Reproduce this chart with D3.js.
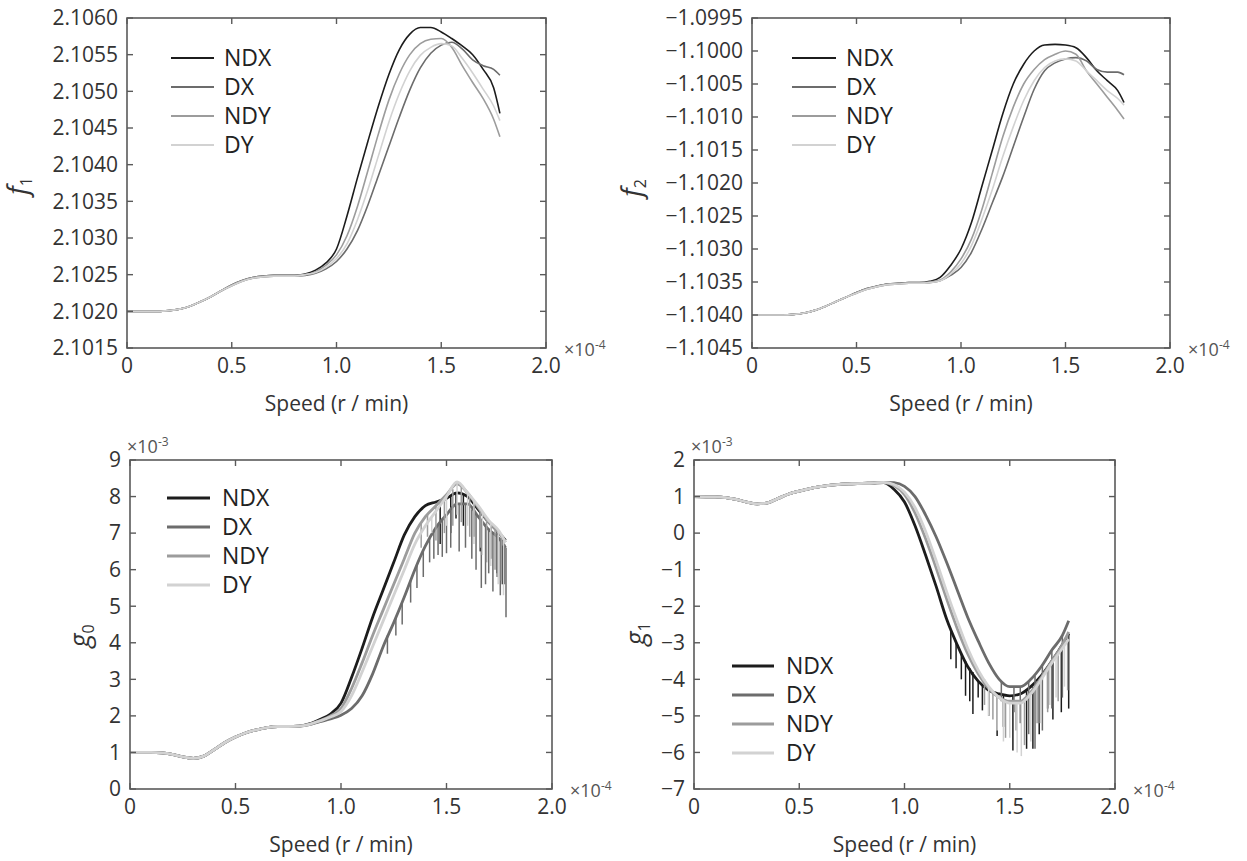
<!DOCTYPE html>
<html><head><meta charset="utf-8">
<script src="https://cdn.jsdelivr.net/npm/d3@7"></script>
<style>
body{margin:0;background:#fff;}
svg{display:block;}
text{font-family:"Open Sans",sans-serif;}
</style></head><body>
<svg id="chart" width="1247" height="861"></svg>
<script>
// ---------- DATA (speed in units of 1e-4) ----------
const speed = [0, 0.1, 0.15, 0.2, 0.25, 0.3, 0.35, 0.4, 0.45, 0.5, 0.55, 0.6, 0.65, 0.7, 0.75, 0.8, 0.85, 0.9, 0.95, 1.0, 1.05, 1.1, 1.15, 1.2, 1.25, 1.3, 1.35, 1.4, 1.45, 1.5, 1.55, 1.6, 1.65, 1.7, 1.75, 1.78];
const seriesNames = ["NDX", "DX", "NDY", "DY"];
const xTicks = [0, 0.5, 1.0, 1.5, 2.0];
const xTickLabels = ["0", "0.5", "1.0", "1.5", "2.0"];

// f1
const f1Ticks = [2.1015, 2.1020, 2.1025, 2.1030, 2.1035, 2.1040, 2.1045, 2.1050, 2.1055, 2.1060];
const f1NDX = [2.10200, 2.10200, 2.10200, 2.10201, 2.10203, 2.10207, 2.10213, 2.10220, 2.10228, 2.10236, 2.10242, 2.10246, 2.10248, 2.10249, 2.10249, 2.10249, 2.10251, 2.10256, 2.10266, 2.10285, 2.10330, 2.10382, 2.10432, 2.10480, 2.10523, 2.10557, 2.10578, 2.10587, 2.10587, 2.10581, 2.10572, 2.10562, 2.10550, 2.10530, 2.10505, 2.10470];
const f1DX  = [2.10200, 2.10200, 2.10200, 2.10201, 2.10203, 2.10207, 2.10213, 2.10220, 2.10228, 2.10235, 2.10241, 2.10245, 2.10247, 2.10248, 2.10248, 2.10248, 2.10249, 2.10252, 2.10258, 2.10268, 2.10285, 2.10310, 2.10345, 2.10385, 2.10425, 2.10465, 2.10502, 2.10532, 2.10552, 2.10563, 2.10567, 2.10558, 2.10543, 2.10535, 2.10530, 2.10522];
const f1NDY = [2.10200, 2.10200, 2.10200, 2.10201, 2.10203, 2.10207, 2.10213, 2.10220, 2.10228, 2.10236, 2.10242, 2.10246, 2.10248, 2.10249, 2.10249, 2.10249, 2.10250, 2.10254, 2.10263, 2.10277, 2.10303, 2.10343, 2.10392, 2.10442, 2.10488, 2.10524, 2.10550, 2.10565, 2.10571, 2.10572, 2.10560, 2.10535, 2.10512, 2.10490, 2.10462, 2.10438];
const f1DY  = [2.10200, 2.10200, 2.10200, 2.10201, 2.10203, 2.10207, 2.10213, 2.10220, 2.10228, 2.10235, 2.10241, 2.10245, 2.10247, 2.10248, 2.10248, 2.10248, 2.10250, 2.10253, 2.10260, 2.10272, 2.10292, 2.10325, 2.10366, 2.10412, 2.10458, 2.10497, 2.10528, 2.10549, 2.10560, 2.10565, 2.10562, 2.10545, 2.10525, 2.10503, 2.10480, 2.10460];

// f2
const f2Ticks = [-1.1045, -1.1040, -1.1035, -1.1030, -1.1025, -1.1020, -1.1015, -1.1010, -1.1005, -1.1000, -1.0995];
const f2NDX = [-1.10400, -1.10400, -1.10400, -1.10399, -1.10397, -1.10393, -1.10387, -1.10380, -1.10373, -1.10366, -1.10360, -1.10356, -1.10353, -1.10352, -1.10351, -1.10351, -1.10349, -1.10343, -1.10325, -1.10300, -1.10260, -1.10205, -1.10150, -1.10095, -1.10050, -1.10020, -1.10000, -1.09991, -1.09990, -1.09991, -1.09995, -1.10010, -1.10030, -1.10045, -1.10060, -1.10078];
const f2DX  = [-1.10400, -1.10400, -1.10400, -1.10399, -1.10397, -1.10393, -1.10387, -1.10380, -1.10373, -1.10367, -1.10361, -1.10357, -1.10354, -1.10353, -1.10352, -1.10352, -1.10351, -1.10348, -1.10340, -1.10328, -1.10305, -1.10270, -1.10230, -1.10190, -1.10145, -1.10100, -1.10058, -1.10030, -1.10018, -1.10012, -1.10010, -1.10015, -1.10028, -1.10032, -1.10032, -1.10036];
const f2NDY = [-1.10400, -1.10400, -1.10400, -1.10399, -1.10397, -1.10393, -1.10387, -1.10380, -1.10373, -1.10366, -1.10360, -1.10356, -1.10353, -1.10352, -1.10351, -1.10351, -1.10350, -1.10347, -1.10335, -1.10315, -1.10285, -1.10240, -1.10185, -1.10130, -1.10085, -1.10050, -1.10028, -1.10013, -1.10005, -1.10000, -1.10005, -1.10030, -1.10050, -1.10070, -1.10090, -1.10103];
const f2DY  = [-1.10400, -1.10400, -1.10400, -1.10399, -1.10397, -1.10393, -1.10387, -1.10380, -1.10373, -1.10367, -1.10361, -1.10357, -1.10354, -1.10353, -1.10352, -1.10352, -1.10351, -1.10348, -1.10338, -1.10322, -1.10295, -1.10255, -1.10210, -1.10160, -1.10115, -1.10075, -1.10045, -1.10025, -1.10015, -1.10012, -1.10015, -1.10030, -1.10045, -1.10060, -1.10072, -1.10082];

// g0 (units of 1e-3)
const g0Ticks = [0, 1, 2, 3, 4, 5, 6, 7, 8, 9];
const g0NDX = [1.00, 1.00, 0.99, 0.95, 0.88, 0.84, 0.90, 1.08, 1.27, 1.42, 1.54, 1.62, 1.68, 1.71, 1.71, 1.72, 1.78, 1.90, 2.05, 2.35, 3.05, 3.85, 4.70, 5.45, 6.20, 6.95, 7.45, 7.75, 7.85, 7.95, 8.10, 8.00, 7.65, 7.30, 7.00, 6.80];
const g0DX  = [1.00, 1.00, 0.99, 0.95, 0.88, 0.84, 0.90, 1.08, 1.27, 1.42, 1.54, 1.62, 1.68, 1.71, 1.71, 1.72, 1.76, 1.84, 1.92, 2.02, 2.20, 2.55, 3.15, 3.90, 4.55, 5.25, 6.00, 6.65, 7.15, 7.50, 7.80, 7.80, 7.45, 7.10, 6.85, 6.60];
const g0NDY = [1.00, 1.00, 0.99, 0.95, 0.88, 0.84, 0.90, 1.08, 1.27, 1.42, 1.54, 1.62, 1.68, 1.71, 1.71, 1.72, 1.77, 1.87, 2.00, 2.20, 2.75, 3.45, 4.20, 4.90, 5.60, 6.30, 7.00, 7.45, 7.75, 8.05, 8.35, 8.10, 7.70, 7.30, 7.00, 6.75];
const g0DY  = [1.00, 1.00, 0.99, 0.95, 0.88, 0.84, 0.90, 1.08, 1.27, 1.42, 1.54, 1.62, 1.68, 1.71, 1.71, 1.72, 1.77, 1.86, 1.97, 2.12, 2.55, 3.20, 3.90, 4.60, 5.30, 6.00, 6.70, 7.20, 7.60, 8.00, 8.40, 8.10, 7.75, 7.35, 7.05, 6.75];
// downward spikes: [speed, top, bottom]
const g0SpikesNDX = [[1.47, 7.9, 6.7], [1.52, 8.0, 7.0], [1.545, 8.1, 7.4], [1.58, 8.05, 7.2], [1.63, 7.8, 6.9], [1.66, 7.6, 6.5], [1.71, 7.25, 6.3], [1.74, 7.05, 5.9], [1.765, 6.9, 5.6]];
const g0SpikesDX  = [[1.22, 4.2, 3.7], [1.26, 4.7, 4.2], [1.29, 5.1, 4.5], [1.33, 5.7, 5.1], [1.36, 6.1, 5.5], [1.39, 6.5, 5.8], [1.42, 6.85, 6.2], [1.44, 7.05, 6.3], [1.46, 7.2, 6.4], [1.48, 7.35, 6.35], [1.50, 7.5, 6.45], [1.52, 7.6, 6.6], [1.56, 7.8, 6.5], [1.59, 7.8, 6.6], [1.62, 7.65, 6.3], [1.64, 7.5, 6.0], [1.665, 7.35, 5.5], [1.685, 7.2, 5.6], [1.70, 7.1, 5.9], [1.72, 7.0, 5.4], [1.74, 6.9, 5.8], [1.755, 6.85, 5.3], [1.775, 6.7, 5.6], [1.782, 6.6, 4.7]];
const g0SpikesNDY = [[1.38, 7.3, 6.6], [1.41, 7.5, 6.9], [1.45, 7.75, 6.8], [1.49, 8.0, 7.0], [1.53, 8.2, 7.2], [1.57, 8.3, 7.3], [1.61, 8.0, 6.9], [1.66, 7.6, 6.6], [1.69, 7.4, 6.2], [1.73, 7.15, 6.0], [1.76, 6.95, 5.7]];
const g0SpikesDY  = [[1.43, 7.45, 7.0], [1.50, 8.0, 7.2], [1.55, 8.4, 7.5], [1.60, 8.1, 7.2], [1.63, 7.9, 6.7], [1.67, 7.6, 6.4], [1.71, 7.3, 6.1], [1.745, 7.05, 5.6], [1.77, 6.85, 5.3]];

// g1 (units of 1e-3)
const g1Ticks = [-7, -6, -5, -4, -3, -2, -1, 0, 1, 2];
const g1NDX = [1.00, 0.99, 0.97, 0.92, 0.85, 0.80, 0.83, 0.95, 1.07, 1.15, 1.22, 1.27, 1.31, 1.34, 1.35, 1.36, 1.37, 1.38, 1.20, 0.85, 0.20, -0.60, -1.45, -2.35, -3.05, -3.65, -4.05, -4.30, -4.40, -4.45, -4.40, -4.20, -3.90, -3.50, -3.05, -2.75];
const g1DX  = [1.00, 0.99, 0.97, 0.92, 0.85, 0.80, 0.83, 0.95, 1.07, 1.15, 1.22, 1.27, 1.31, 1.34, 1.35, 1.36, 1.37, 1.39, 1.38, 1.28, 1.00, 0.50, -0.10, -0.80, -1.55, -2.30, -2.95, -3.55, -4.00, -4.20, -4.20, -4.00, -3.65, -3.20, -2.80, -2.40];
const g1NDY = [1.00, 0.99, 0.97, 0.92, 0.85, 0.80, 0.83, 0.95, 1.07, 1.15, 1.22, 1.27, 1.31, 1.34, 1.35, 1.36, 1.37, 1.38, 1.30, 1.05, 0.55, -0.15, -0.95, -1.80, -2.60, -3.30, -3.85, -4.25, -4.50, -4.60, -4.60, -4.35, -3.95, -3.50, -3.05, -2.70];
const g1DY  = [1.00, 0.99, 0.97, 0.92, 0.85, 0.80, 0.83, 0.95, 1.07, 1.15, 1.22, 1.27, 1.31, 1.34, 1.35, 1.36, 1.37, 1.39, 1.33, 1.12, 0.70, 0.05, -0.75, -1.60, -2.40, -3.15, -3.75, -4.20, -4.50, -4.65, -4.65, -4.40, -4.00, -3.55, -3.15, -2.90];
const g1SpikesNDX = [[1.22, -2.7, -3.45], [1.245, -3.0, -3.7], [1.27, -3.3, -4.0], [1.29, -3.5, -4.45], [1.31, -3.7, -4.6], [1.325, -3.8, -4.95], [1.35, -4.05, -4.5], [1.37, -4.15, -4.85], [1.40, -4.3, -5.0], [1.44, -4.4, -5.55], [1.47, -4.4, -5.3], [1.515, -4.45, -5.95], [1.58, -4.3, -5.9], [1.61, -4.2, -5.9], [1.64, -4.0, -5.5], [1.68, -3.7, -4.8], [1.705, -3.5, -5.1], [1.745, -3.1, -4.9], [1.78, -2.75, -4.8]];
const g1SpikesDX  = [[1.46, -4.05, -4.6], [1.52, -4.2, -4.9], [1.55, -4.2, -5.2], [1.59, -4.05, -5.5], [1.62, -3.9, -5.9], [1.655, -3.6, -5.4], [1.70, -3.2, -4.8], [1.75, -2.8, -4.5]];
const g1SpikesNDY = [[1.38, -4.0, -4.7], [1.42, -4.35, -5.1], [1.48, -4.55, -5.6], [1.53, -4.6, -5.4], [1.57, -4.5, -5.8], [1.63, -4.05, -5.2], [1.68, -3.7, -4.9], [1.73, -3.25, -4.6], [1.775, -2.8, -4.3]];
const g1SpikesDY  = [[1.40, -4.2, -5.0], [1.44, -4.45, -5.4], [1.47, -4.55, -5.7], [1.50, -4.65, -5.6], [1.535, -4.65, -6.0], [1.555, -4.65, -6.1], [1.60, -4.45, -5.7], [1.645, -4.05, -5.2], [1.69, -3.65, -4.7], [1.72, -3.4, -4.5], [1.76, -3.05, -4.2]];

// ---------- STYLE / LAYOUT ----------
const seriesColors = ["#1c1c1c", "#6c6c6c", "#9c9c9c", "#d2d2d2"];
const frameColor = "#5a5a5a";
const textColor = "#333";

const panels = [
  {sym: "f", sub: "1", box: {l: 127, r: 546, t: 18, b: 348}, yDomain: [2.1015, 2.1060], yTicks: f1Ticks, fmt: d3.format(".4f"),
   series: [f1NDX, f1DX, f1NDY, f1DY], spikes: null, lw: 1.6, leg: {x1: 171, x2: 214, tx: 224, y0: 58}, ylab: {x: 18, y: 186}, yExp: null},
  {sym: "f", sub: "2", box: {l: 752, r: 1170, t: 18, b: 348}, yDomain: [-1.1045, -1.0995], yTicks: f2Ticks, fmt: d3.format(".4f"),
   series: [f2NDX, f2DX, f2NDY, f2DY], spikes: null, lw: 1.6, leg: {x1: 792, x2: 836, tx: 846, y0: 58}, ylab: {x: 632, y: 188}, yExp: null},
  {sym: "g", sub: "0", box: {l: 130, r: 552, t: 460, b: 789}, yDomain: [0, 9], yTicks: g0Ticks, fmt: d3.format("d"),
   series: [g0NDX, g0DX, g0NDY, g0DY], spikes: [g0SpikesNDX, g0SpikesDX, g0SpikesNDY, g0SpikesDY], lw: 2.8,
   leg: {x1: 167, x2: 210, tx: 222, y0: 498}, ylab: {x: 80, y: 636}, yExp: "-3"},
  {sym: "g", sub: "1", box: {l: 694, r: 1115, t: 460, b: 789}, yDomain: [-7, 2], yTicks: g1Ticks, fmt: d3.format("d"),
   series: [g1NDX, g1DX, g1NDY, g1DY], spikes: [g1SpikesNDX, g1SpikesDX, g1SpikesNDY, g1SpikesDY], lw: 2.8,
   leg: {x1: 732, x2: 774, tx: 786, y0: 666}, ylab: {x: 636, y: 634}, yExp: "-3"}
];
const legendStep = 29;

const svg = d3.select("#chart");

panels.forEach(p => {
  const B = p.box;
  const x = d3.scaleLinear().domain([0, 2.0]).range([B.l, B.r]);
  const y = d3.scaleLinear().domain(p.yDomain).range([B.b, B.t]);
  const g = svg.append("g");
  const tl = 6;

  // data lines
  const line = d3.line().x(d => x(d[0])).y(d => y(d[1])).curve(d3.curveMonotoneX);
  p.series.forEach((vals, i) => {
    const pts = speed.map((s, k) => [s, vals[k]]);
    g.append("path").attr("d", line(pts)).attr("fill", "none")
      .attr("stroke", seriesColors[i]).attr("stroke-width", p.lw).attr("stroke-linejoin", "round");
    if (p.spikes) {
      g.selectAll(null).data(p.spikes[i]).enter().append("line")
        .attr("x1", d => x(d[0])).attr("x2", d => x(d[0]))
        .attr("y1", d => y(d[1])).attr("y2", d => y(d[2]))
        .attr("stroke", seriesColors[i]).attr("stroke-width", 1.5);
    }
  });

  // frame
  g.append("rect").attr("x", B.l).attr("y", B.t).attr("width", B.r - B.l).attr("height", B.b - B.t)
    .attr("fill", "none").attr("stroke", frameColor).attr("stroke-width", 1.6);

  // x ticks (bottom & top, inward)
  xTicks.forEach((t, i) => {
    const xx = x(t);
    g.append("line").attr("x1", xx).attr("x2", xx).attr("y1", B.b).attr("y2", B.b - tl).attr("stroke", frameColor).attr("stroke-width", 1.4);
    g.append("line").attr("x1", xx).attr("x2", xx).attr("y1", B.t).attr("y2", B.t + tl).attr("stroke", frameColor).attr("stroke-width", 1.4);
    g.append("text").attr("x", xx).attr("y", B.b + 25).attr("text-anchor", "middle")
      .attr("font-size", 21).attr("fill", textColor).text(xTickLabels[i]);
  });
  // y ticks (left & right, inward)
  p.yTicks.forEach(t => {
    const yy = y(t);
    g.append("line").attr("x1", B.l).attr("x2", B.l + tl).attr("y1", yy).attr("y2", yy).attr("stroke", frameColor).attr("stroke-width", 1.4);
    g.append("line").attr("x1", B.r).attr("x2", B.r - tl).attr("y1", yy).attr("y2", yy).attr("stroke", frameColor).attr("stroke-width", 1.4);
    g.append("text").attr("x", B.l - 9).attr("y", yy).attr("dy", "0.35em").attr("text-anchor", "end")
      .attr("font-size", 21).attr("fill", textColor).text(p.fmt(t));
  });

  // x exponent
  const ex = g.append("text").attr("x", B.r + 18).attr("y", B.b + 8).attr("font-size", 18).attr("fill", "#555");
  ex.append("tspan").text("×10");
  ex.append("tspan").attr("dy", -7).attr("font-size", 12).text("-4");
  // y exponent
  if (p.yExp) {
    const ey = g.append("text").attr("x", B.l - 3).attr("y", B.t - 7).attr("font-size", 18).attr("fill", "#555");
    ey.append("tspan").text("×10");
    ey.append("tspan").attr("dy", -7).attr("font-size", 12).text(p.yExp);
  }

  // x axis label
  g.append("text").attr("x", (B.l + B.r) / 2).attr("y", B.b + 63).attr("text-anchor", "middle")
    .attr("font-size", 21).attr("fill", textColor).text("Speed (r / min)");

  // y axis label
  const yl = g.append("text").attr("transform", `translate(${p.ylab.x},${p.ylab.y}) rotate(-90)`)
    .attr("text-anchor", "middle").attr("font-family", "'Liberation Serif', serif").attr("font-style", "italic")
    .attr("font-size", 27).attr("fill", textColor).attr("dy", "0.35em");
  yl.append("tspan").text(p.sym);
  yl.append("tspan").attr("font-style", "normal").attr("font-size", 16).attr("dy", 5).text(p.sub);

  // legend
  seriesNames.forEach((n, i) => {
    const ly = p.leg.y0 + i * legendStep;
    g.append("line").attr("x1", p.leg.x1).attr("x2", p.leg.x2).attr("y1", ly).attr("y2", ly)
      .attr("stroke", seriesColors[i]).attr("stroke-width", p.lw + 0.3);
    g.append("text").attr("x", p.leg.tx).attr("y", ly).attr("dy", "0.36em")
      .attr("font-size", 23).attr("fill", "#222").text(n);
  });
});
</script>
</body></html>
